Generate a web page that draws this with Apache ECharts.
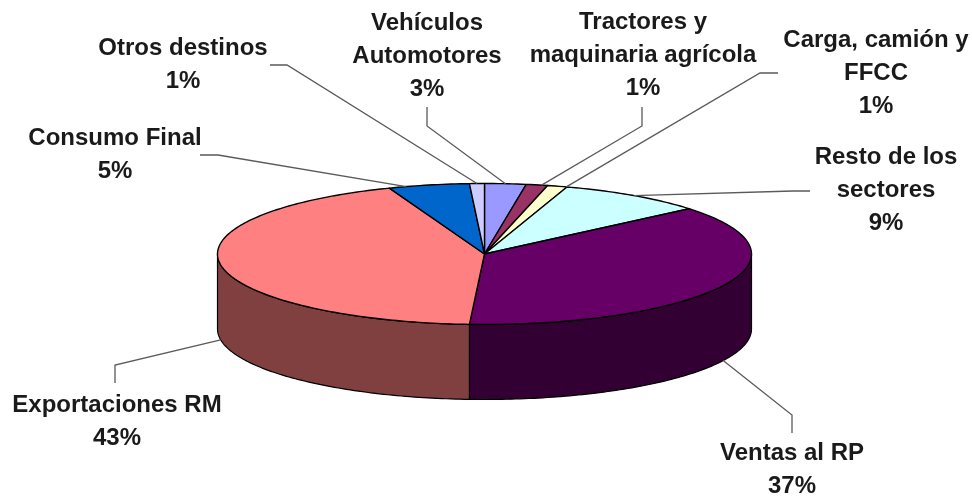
<!DOCTYPE html>
<html>
<head>
<meta charset="utf-8">
<style>html,body{margin:0;padding:0;background:#fff}#main{width:972px;height:499px}</style>
<script src="https://cdn.jsdelivr.net/npm/echarts@6/dist/echarts.min.js"></script>
</head>
<body>
<div id="main"></div>
<script>
// datos, en sentido horario desde arriba
var categories = ['Vehículos\nAutomotores', 'Tractores y\nmaquinaria agrícola', 'Carga, camión y\nFFCC', 'Resto de los\nsectores', 'Ventas al RP', 'Exportaciones RM', 'Consumo Final', 'Otros destinos'];
var values = [2.5, 1.3, 1.2, 8.9, 37, 43.3, 4.9, 0.9];
var topColors = ['#9999FF', '#993366', '#FFFFCC', '#CCFFFF', '#660066', '#FF8080', '#0066CC', '#CCCCFF'];
var sideColors = ['#4D4D80', '#4D1A33', '#808066', '#668080', '#330033', '#804040', '#003366', '#666680'];

// centro del texto [x, y]
var labelPos = [[427, 56], [643, 55], [876, 73], [886, 190], [792, 470], [117, 422], [115, 155], [183, 65]];
// codo de la linea guia: inicio, quiebre
var leaderElbow = [
  [[427, 107], [427, 126]], [[642, 107], [642, 126]], [[778, 73], [760, 73]], [[810, 191], [793, 191]],
  [[792, 433], [792, 415]], [[115, 383], [115, 365]], [[200, 155], [218, 155]], [[270, 65], [287, 65]]
];
var leaderNudge = [0, 1, 2, 0, 0, 0, -5, 0]; // grados

var cx = 484.5, cy = 254, rx = 267, ry = 70.5, depth = 75;
var total = values.reduce(function (a, b) { return a + b; }, 0);

function pt(deg, dy) {
  var r = deg * Math.PI / 180;
  return [cx + rx * Math.sin(r), cy - ry * Math.cos(r) + (dy || 0)];
}
function arc(from, to, dy) {
  var pts = [], n = Math.max(2, Math.ceil(Math.abs(to - from)));
  for (var i = 0; i <= n; i++) pts.push(pt(from + (to - from) * i / n, dy));
  return pts;
}

function renderSlice(params, api) {
  var i = params.dataIndex, before = 0;
  for (var k = 0; k < i; k++) before += values[k];
  var a0 = before / total * 360, a1 = (before + api.value(0)) / total * 360;
  var mid = (a0 + a1) / 2;
  var kids = [];

  // cara lateral, solo la parte que da al frente
  var s0 = Math.max(a0, 90), s1 = Math.min(a1, 270);
  if (s1 > s0) {
    var front = arc(s0, s1, 0), back = arc(s1, s0, depth);
    kids.push({
      type: 'polygon', z2: 1,
      shape: { points: front.concat(back) },
      style: { fill: sideColors[i], stroke: '#000', lineWidth: 1.2 }
    });
  }
  kids.push({
    type: 'polygon', z2: 2,
    shape: { points: [[cx, cy]].concat(arc(a0, a1, 0)) },
    style: { fill: topColors[i], stroke: '#000', lineWidth: 1.4, lineJoin: 'round' }
  });

  var am = mid + leaderNudge[i];
  var isFront = am > 90 && am < 270;
  kids.push({
    type: 'polyline', z2: 3,
    shape: { points: leaderElbow[i].concat([pt(am, isFront ? depth : 0)]) },
    style: { fill: null, stroke: '#5a5a5a', lineWidth: 1.3 }
  });
  kids.push({
    type: 'text', z2: 4,
    x: labelPos[i][0], y: labelPos[i][1],
    style: {
      text: categories[i] + '\n' + Math.round(api.value(0)) + '%',
      fill: '#1a1a1a',
      font: 'bold 24px "Liberation Sans", Arial, sans-serif',
      lineHeight: 33, align: 'center', verticalAlign: 'middle'
    }
  });
  return { type: 'group', children: kids };
}

var myChart = echarts.init(document.getElementById('main'), null, { renderer: 'canvas' });
var option = {
  animation: false,
  backgroundColor: '#fff',
  series: [{
    type: 'custom',
    coordinateSystem: 'none',
    renderItem: renderSlice,
    clip: false,
    data: values.map(function (v) { return [v]; })
  }]
};
myChart.setOption(option);
</script>
</body>
</html>
